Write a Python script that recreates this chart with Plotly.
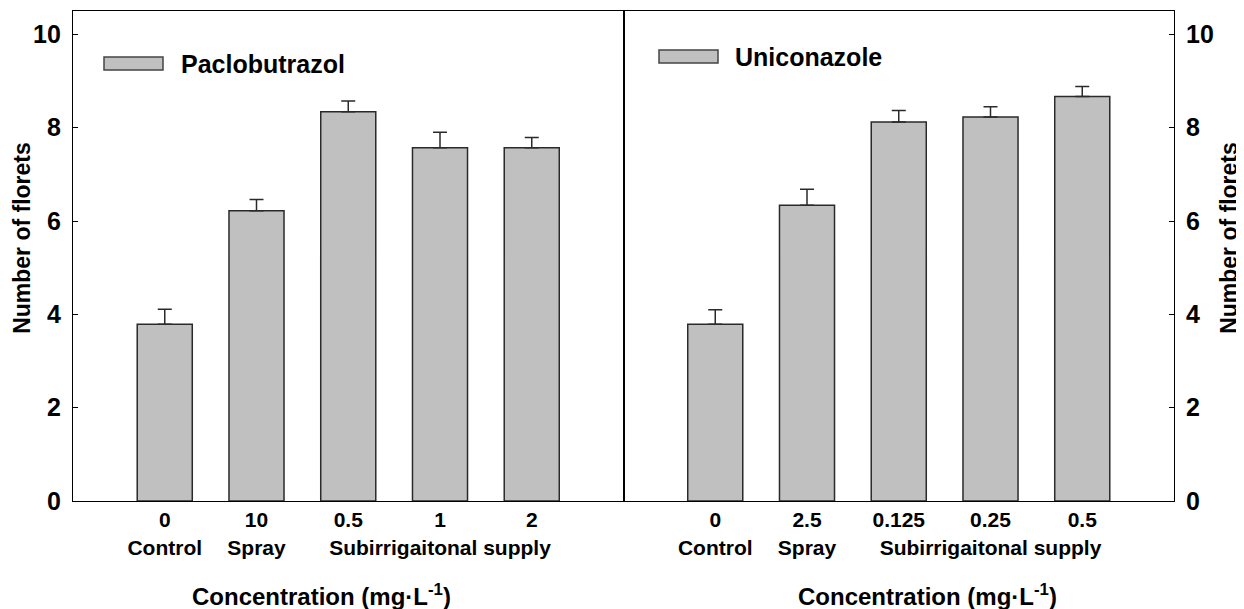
import plotly.graph_objects as go

# ---- data ----
pac_conc = ["0", "10", "0.5", "1", "2"]
pac_method = ["Control", "Spray", "", "Subirrigaitonal supply", ""]
pac_vals = [3.79, 6.22, 8.34, 7.57, 7.57]
pac_err = [0.32, 0.24, 0.23, 0.33, 0.22]

uni_conc = ["0", "2.5", "0.125", "0.25", "0.5"]
uni_method = ["Control", "Spray", "", "Subirrigaitonal supply", ""]
uni_vals = [3.79, 6.34, 8.12, 8.23, 8.67]
uni_err = [0.31, 0.34, 0.25, 0.22, 0.21]

y_ticks = [0, 2, 4, 6, 8, 10]
y_title = "Number of florets"
x_title = "Concentration (mg·L<sup>-1</sup>)"

FONT = "Arial, Liberation Sans, sans-serif"
BAR_FILL = "#c0c0c0"
EDGE = "#2a2a2a"

def ticktext(conc, method):
    return [c + ("<br>" + m if m else "") for c, m in zip(conc, method)]

fig = go.Figure()
pos = list(range(len(pac_vals)))

fig.add_trace(go.Bar(
    x=pos, y=pac_vals, name="Paclobutrazol", width=0.6,
    marker=dict(color=BAR_FILL, line=dict(color=EDGE, width=1.5)),
    error_y=dict(type="data", array=pac_err, arrayminus=[0]*len(pac_err), symmetric=False,
                 color=EDGE, thickness=1.5, width=7),
    xaxis="x", yaxis="y", showlegend=False))
fig.add_trace(go.Bar(
    x=pos, y=uni_vals, name="Uniconazole", width=0.6,
    marker=dict(color=BAR_FILL, line=dict(color=EDGE, width=1.5)),
    error_y=dict(type="data", array=uni_err, arrayminus=[0]*len(uni_err), symmetric=False,
                 color=EDGE, thickness=1.5, width=7),
    xaxis="x2", yaxis="y2", showlegend=False))

xcommon = dict(range=[-1, 5], showline=True, linecolor="black", linewidth=1.2, mirror=True,
               ticks="", showgrid=False, zeroline=False, tickmode="array", tickvals=pos,
               tickangle=0, automargin=False,
               tickfont=dict(family=FONT, size=21, color="black", weight="bold"))
ycommon = dict(range=[0, 10.5], showline=True, linecolor="black", linewidth=1.2, mirror=True,
               ticks="inside", ticklen=5, tickcolor="black", tickvals=y_ticks,
               showgrid=False, zeroline=False, ticklabelstandoff=6, automargin=False,
               tickfont=dict(family=FONT, size=25, color="black", weight="bold"))

# page has an 8px body margin, so the figure is sized to fit inside the window
fig.update_layout(
    width=1236, height=601,
    margin=dict(l=65, r=70, t=3, b=108, autoexpand=False),
    paper_bgcolor="white", plot_bgcolor="white",
    bargap=0.4,
    xaxis=dict(domain=[0, 0.5], anchor="y", ticktext=ticktext(pac_conc, pac_method), **xcommon),
    xaxis2=dict(domain=[0.5, 1], anchor="y2", ticktext=ticktext(uni_conc, uni_method), **xcommon),
    yaxis=dict(anchor="x", side="left", **ycommon),
    yaxis2=dict(anchor="x2", side="right", **ycommon),
)

# axis titles
tfont = dict(family=FONT, size=24, color="black", weight="bold")
yfont = dict(family=FONT, size=23, color="black", weight="bold")
fig.add_annotation(text=x_title, xref="paper", yref="paper", x=(321 - 73) / 1101, y=-0.192,
                   showarrow=False, font=tfont, xanchor="center", yanchor="middle")
fig.add_annotation(text=x_title, xref="paper", yref="paper", x=(927 - 73) / 1101, y=-0.192,
                   showarrow=False, font=tfont, xanchor="center", yanchor="middle")
fig.add_annotation(text=y_title, xref="paper", yref="paper", x=(22 - 73) / 1101, y=0.537,
                   textangle=-90, showarrow=False, font=yfont, xanchor="center", yanchor="middle")
fig.add_annotation(text=y_title, xref="paper", yref="paper", x=(1229 - 73) / 1101, y=0.537,
                   textangle=-90, showarrow=False, font=yfont, xanchor="center", yanchor="middle")

# legend-like keys
lfont = dict(family=FONT, size=25, color="black", weight="bold")
for name, sx0, sx1, sy0, sy1, tx, ty in [
    ("Paclobutrazol", 104, 163, 57, 70, 179, 64),
    ("Uniconazole", 659, 718, 50, 63, 733, 57),
]:
    fig.add_shape(type="rect", xref="paper", yref="paper",
                  x0=(sx0 - 73) / 1101, x1=(sx1 - 73) / 1101,
                  y0=(501 - sy1) / 490, y1=(501 - sy0) / 490,
                  fillcolor=BAR_FILL, line=dict(color="#444444", width=1.5))
    fig.add_annotation(text=name, xref="paper", yref="paper", x=(tx - 73) / 1101, y=(501 - ty) / 490,
                       showarrow=False, font=lfont, xanchor="left", yanchor="middle")

fig.write_html("out.html")
